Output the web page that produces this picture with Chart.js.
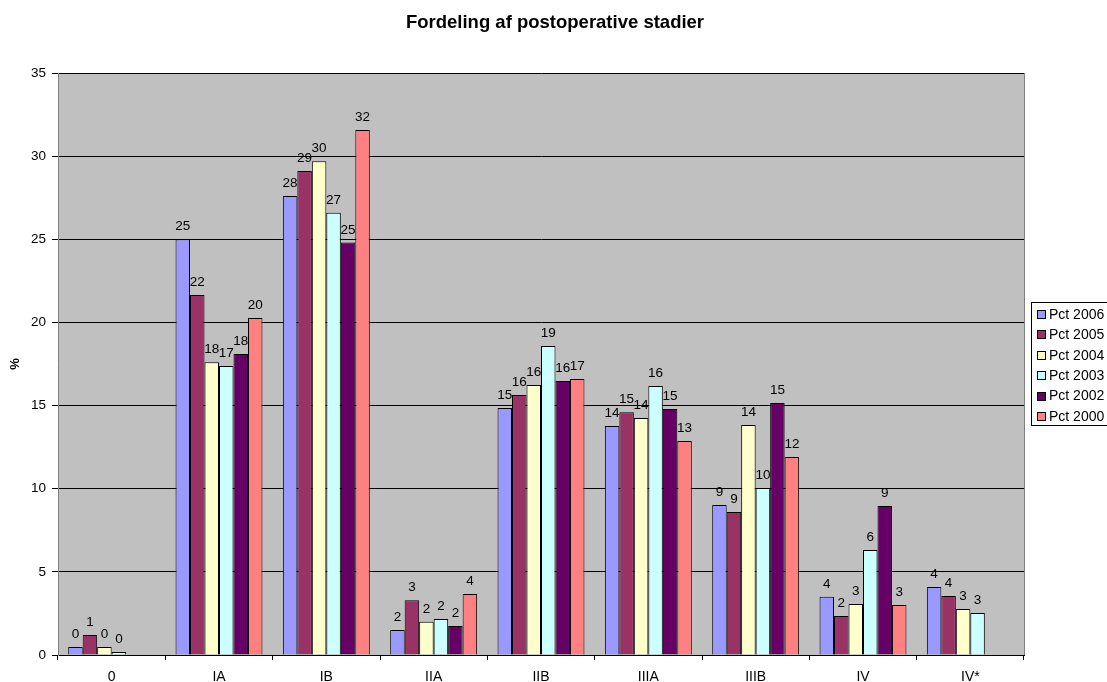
<!DOCTYPE html>
<html>
<head>
<meta charset="utf-8">
<title>Fordeling af postoperative stadier</title>
<script src="https://cdn.jsdelivr.net/npm/chart.js@4/dist/chart.umd.min.js"></script>
<style>
  html, body { margin: 0; padding: 0; background: #ffffff; }
  canvas { display: block; }
</style>
</head>
<body>
<canvas id="chart" width="1107" height="682"></canvas>
<script>
// Stages on the x axis
const stages = ['0', 'IA', 'IB', 'IIA', 'IIB', 'IIIA', 'IIIB', 'IV', 'IV*'];

// Share of patients (%) per stage, one array per year
const pct2006 = [0.48, 25.0, 27.6, 1.5, 14.85, 13.77, 9.02, 3.5, 4.09];
const pct2005 = [1.2, 21.65, 29.1, 3.3, 15.63, 14.6, 8.6, 2.35, 3.55];
const pct2004 = [0.48, 17.6, 29.7, 2.0, 16.24, 14.25, 13.83, 3.07, 2.77];
const pct2003 = [0.18, 17.38, 26.6, 2.16, 18.58, 16.18, 10.04, 6.31, 2.53];
const pct2002 = [null, 18.1, 24.8, 1.74, 16.48, 14.8, 15.15, 8.96, null];
const pct2000 = [null, 20.26, 31.57, 3.67, 16.6, 12.87, 11.9, 3.0, null];

const yTicks = [0, 5, 10, 15, 20, 25, 30, 35];

const seriesLabels = ['Pct 2006', 'Pct 2005', 'Pct 2004', 'Pct 2003', 'Pct 2002', 'Pct 2000'];
const seriesValues = [pct2006, pct2005, pct2004, pct2003, pct2002, pct2000];
const seriesColors = ['#9999FF', '#993366', '#FFFFCC', '#CCFFFF', '#660066', '#FF8080'];

const FONT = '"Liberation Sans", Arial, sans-serif';

// Grey plot background
const plotBackground = {
  id: 'plotBackground',
  beforeDraw(chart) {
    const { ctx, chartArea: a } = chart;
    ctx.save();
    ctx.fillStyle = '#C0C0C0';
    ctx.fillRect(a.left, a.top, a.right - a.left, a.bottom - a.top);
    ctx.restore();
  },
  afterDraw(chart) {
    const { ctx, chartArea: a } = chart;
    ctx.save();
    ctx.strokeStyle = '#808080';
    ctx.lineWidth = 1;
    ctx.beginPath();
    ctx.moveTo(a.right + 0.5, a.top);
    ctx.lineTo(a.right + 0.5, a.bottom);
    ctx.stroke();
    ctx.restore();
  }
};

// Rounded value above each bar
const valueLabels = {
  id: 'valueLabels',
  afterDatasetsDraw(chart) {
    const { ctx } = chart;
    ctx.save();
    ctx.font = '13.5px ' + FONT;
    ctx.fillStyle = '#000000';
    ctx.textAlign = 'center';
    ctx.textBaseline = 'alphabetic';
    chart.data.datasets.forEach((ds, i) => {
      const meta = chart.getDatasetMeta(i);
      meta.data.forEach((el, j) => {
        const v = ds.data[j];
        if (v === null || v === undefined) return;
        ctx.fillText(String(Math.round(v)), el.x, el.y - 9);
      });
    });
    ctx.restore();
  }
};

// Title, axis title and boxed legend
const decorations = {
  id: 'decorations',
  afterDraw(chart) {
    const { ctx, chartArea: a } = chart;
    ctx.save();
    ctx.fillStyle = '#000000';
    ctx.textAlign = 'center';
    ctx.textBaseline = 'middle';
    ctx.font = 'bold 18.5px ' + FONT;
    ctx.fillText('Fordeling af postoperative stadier', 555, 23);

    ctx.save();
    ctx.translate(15, (a.top + a.bottom) / 2);
    ctx.rotate(-Math.PI / 2);
    ctx.font = 'bold 13px ' + FONT;
    ctx.fillText('%', 0, 0);
    ctx.restore();

    // legend
    const lx = 1031.5, ly = 302.5, lw = 76, lh = 123;
    ctx.fillStyle = '#FFFFFF';
    ctx.fillRect(lx, ly, lw, lh);
    ctx.strokeStyle = '#000000';
    ctx.lineWidth = 1;
    ctx.strokeRect(lx, ly, lw, lh);
    ctx.font = '14px ' + FONT;
    ctx.textAlign = 'left';
    chart.data.datasets.forEach((ds, i) => {
      const cy = 314 + i * 20.4;
      ctx.fillStyle = ds.backgroundColor;
      ctx.fillRect(1037.5, Math.round(cy - 4) + 0.5, 8, 8);
      ctx.strokeRect(1037.5, Math.round(cy - 4) + 0.5, 8, 8);
      ctx.fillStyle = '#000000';
      ctx.fillText(ds.label, 1049, cy + 1);
    });
    ctx.restore();
  }
};

new Chart(document.getElementById('chart'), {
  type: 'bar',
  data: {
    labels: stages,
    datasets: seriesLabels.map((label, i) => ({
      label,
      data: seriesValues[i],
      backgroundColor: seriesColors[i],
      borderColor: '#000000',
      borderWidth: 1,
      categoryPercentage: 0.81,
      barPercentage: 1.0
    }))
  },
  options: {
    responsive: false,
    animation: false,
    devicePixelRatio: 1,
    layout: { padding: { top: 73, right: 83, bottom: 0, left: 0 } },
    plugins: {
      legend: { display: false },
      title: { display: false },
      tooltip: { enabled: false }
    },
    scales: {
      x: {
        afterFit(scale) { scale.height = 27; },
        grid: {
          offset: true,
          drawOnChartArea: false,
          drawTicks: true,
          tickLength: 5,
          color: '#000000'
        },
        border: { color: '#000000', width: 1 },
        ticks: {
          color: '#000000',
          font: { family: FONT, size: 14 },
          padding: 9
        }
      },
      y: {
        min: 0,
        max: 35,
        afterFit(scale) { scale.width = 58; },
        afterBuildTicks(scale) { scale.ticks = yTicks.map(v => ({ value: v })); },
        grid: {
          color: '#000000',
          lineWidth: 1,
          tickLength: 6,
          drawTicks: true
        },
        border: { color: '#808080', width: 1 },
        ticks: {
          color: '#000000',
          font: { family: FONT, size: 13.5 },
          padding: 6
        }
      }
    }
  },
  plugins: [plotBackground, valueLabels, decorations]
});
</script>
</body>
</html>
